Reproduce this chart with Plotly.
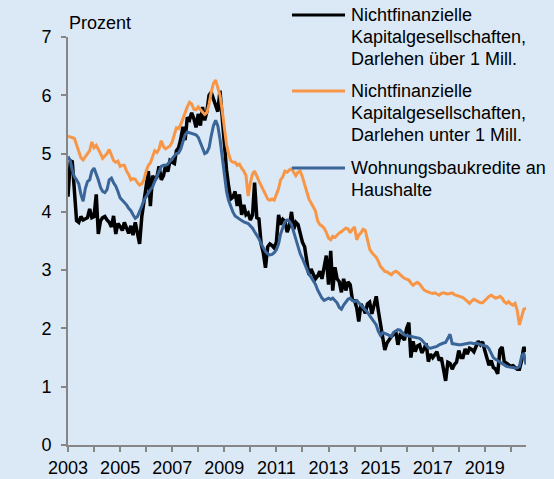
import pandas as pd
import plotly.graph_objects as go

# Monthly observations, Jan 2003 - Aug 2020 (percent)
start_month = "2003-01-01"

large_loans_nfc = [  # Nichtfinanzielle Kapitalgesellschaften, Darlehen über 1 Mill.
    4.26, 4.85, 4.88, 4.30, 3.85, 3.82, 3.92, 3.86, 3.88, 3.90, 4.05, 3.90,  # 2003
    3.92, 4.30, 3.62, 3.85, 3.90, 3.92, 3.86, 3.82, 3.74, 3.93, 3.62, 3.80,  # 2004
    3.75, 3.68, 3.82, 3.70, 3.63, 3.76, 3.60, 3.82, 3.65, 3.45, 3.92, 4.20,  # 2005
    4.45, 4.70, 4.10, 4.62, 4.55, 4.60, 4.78, 4.55, 4.62, 4.80, 4.69, 4.88,  # 2006
    4.85, 4.83, 5.05, 5.10, 5.25, 5.46, 5.23, 5.62, 5.58, 5.70, 5.60, 5.45,  # 2007
    5.68, 5.48, 5.80, 5.57, 5.72, 6.00, 6.05, 5.95, 5.85, 5.72, 6.08, 5.60,  # 2008
    5.05, 4.72, 4.45, 4.22, 4.25, 4.35, 4.10, 4.30, 3.95, 4.12, 3.95, 3.98,  # 2009
    3.86, 3.95, 4.50, 3.90, 3.88, 3.45, 3.30, 3.04, 3.40, 3.45, 3.42, 3.38,  # 2010
    3.48, 3.95, 3.78, 3.87, 3.84, 3.65, 3.75, 4.00, 3.70, 3.82, 3.78, 3.60,  # 2011
    3.48, 3.40, 3.15, 2.92, 3.02, 2.93, 2.85, 2.90, 2.98, 2.85, 3.08, 3.25,  # 2012
    2.75, 3.33, 2.65, 3.05, 2.85, 2.80, 2.62, 2.85, 2.65, 2.80, 2.75, 2.50,  # 2013
    2.48, 2.35, 2.12, 2.42, 2.35, 2.26, 2.42, 2.45, 2.25, 2.40, 2.55, 2.30,  # 2014
    2.05, 1.78, 1.63, 1.75, 1.82, 1.86, 1.90, 1.95, 1.72, 1.88, 1.85, 1.80,  # 2015
    2.00, 2.10, 1.50, 1.78, 1.60, 1.70, 1.72, 1.58, 1.65, 1.74, 1.43, 1.56,  # 2016
    1.50, 1.55, 1.60, 1.45, 1.50, 1.30, 1.10, 1.42, 1.40, 1.30, 1.38, 1.42,  # 2017
    1.62, 1.50, 1.50, 1.65, 1.56, 1.66, 1.64, 1.60, 1.68, 1.78, 1.72, 1.77,  # 2018
    1.62, 1.46, 1.37, 1.45, 1.33, 1.30, 1.22, 1.63, 1.68, 1.43, 1.40, 1.37,  # 2019
    1.35, 1.36, 1.33, 1.30, 1.30, 1.45, 1.68, 1.60,                          # 2020
]

small_loans_nfc = [  # Nichtfinanzielle Kapitalgesellschaften, Darlehen unter 1 Mill.
    5.30, 5.29, 5.28, 5.26, 5.15, 5.02, 4.93, 4.89, 4.95, 5.00, 5.05, 5.20,  # 2003
    5.10, 5.14, 5.08, 5.00, 4.92, 4.96, 5.00, 5.07, 4.98, 4.88, 4.85, 4.87,  # 2004
    4.78, 4.80, 4.80, 4.70, 4.64, 4.55, 4.57, 4.56, 4.50, 4.46, 4.48, 4.55,  # 2005
    4.70, 4.80, 4.84, 4.95, 5.05, 5.02, 5.08, 5.22, 5.12, 5.08, 5.10, 5.13,  # 2006
    5.20, 5.35, 5.44, 5.43, 5.50, 5.60, 5.72, 5.80, 5.88, 5.85, 5.76, 5.75,  # 2007
    5.80, 5.75, 5.70, 5.67, 5.70, 5.85, 6.05, 6.20, 6.26, 6.15, 6.00, 5.75,  # 2008
    5.45, 5.15, 5.00, 4.88, 4.85, 4.85, 4.80, 4.82, 4.75, 4.70, 4.62, 4.27,  # 2009
    4.50, 4.65, 4.70, 4.60, 4.53, 4.45, 4.36, 4.30, 4.22, 4.20, 4.22, 4.20,  # 2010
    4.30, 4.40, 4.55, 4.60, 4.70, 4.68, 4.72, 4.74, 4.68, 4.62, 4.68, 4.70,  # 2011
    4.60, 4.45, 4.35, 4.22, 4.15, 4.10, 4.02, 3.85, 3.78, 3.76, 3.72, 3.65,  # 2012
    3.55, 3.52, 3.58, 3.56, 3.60, 3.64, 3.66, 3.69, 3.72, 3.71, 3.64, 3.70,  # 2013
    3.74, 3.52, 3.60, 3.64, 3.70, 3.68, 3.50, 3.36, 3.30, 3.26, 3.22, 3.15,  # 2014
    3.06, 3.02, 2.98, 2.97, 2.94, 2.92, 2.96, 2.98, 2.96, 2.92, 2.89, 2.86,  # 2015
    2.85, 2.83, 2.78, 2.74, 2.77, 2.79, 2.76, 2.70, 2.66, 2.64, 2.62, 2.61,  # 2016
    2.60, 2.61, 2.59, 2.57, 2.60, 2.61, 2.60, 2.59, 2.60, 2.61, 2.58, 2.57,  # 2017
    2.56, 2.55, 2.53, 2.50, 2.46, 2.43, 2.47, 2.50, 2.48, 2.46, 2.44, 2.44,  # 2018
    2.48, 2.52, 2.55, 2.57, 2.54, 2.52, 2.53, 2.55, 2.52, 2.46, 2.43, 2.46,  # 2019
    2.42, 2.40, 2.43, 2.30, 2.06, 2.22, 2.33, 2.35,                          # 2020
]

housing_loans_hh = [  # Wohnungsbaukredite an Haushalte
    4.95, 4.88, 4.72, 4.60, 4.55, 4.48, 4.30, 4.18, 4.40, 4.52, 4.55, 4.70,  # 2003
    4.75, 4.65, 4.55, 4.42, 4.35, 4.33, 4.38, 4.55, 4.58, 4.50, 4.44, 4.35,  # 2004
    4.24, 4.20, 4.17, 4.12, 4.06, 4.02, 3.95, 3.89, 3.92, 4.00, 4.10, 4.20,  # 2005
    4.25, 4.32, 4.38, 4.43, 4.52, 4.60, 4.68, 4.78, 4.80, 4.80, 4.82, 4.86,  # 2006
    4.90, 4.96, 5.00, 5.01, 5.08, 5.22, 5.32, 5.37, 5.36, 5.35, 5.33, 5.32,  # 2007
    5.28, 5.18, 5.10, 5.00, 5.02, 5.10, 5.30, 5.48, 5.57, 5.48, 5.25, 4.95,  # 2008
    4.60, 4.35, 4.20, 4.08, 4.00, 3.93, 3.90, 3.87, 3.85, 3.83, 3.82, 3.80,  # 2009
    3.76, 3.72, 3.66, 3.60, 3.54, 3.45, 3.38, 3.32, 3.28, 3.26, 3.27, 3.30,  # 2010
    3.35, 3.45, 3.62, 3.74, 3.83, 3.86, 3.84, 3.78, 3.65, 3.52, 3.38, 3.28,  # 2011
    3.20, 3.10, 3.02, 2.93, 2.88, 2.82, 2.76, 2.66, 2.58, 2.52, 2.48, 2.50,  # 2012
    2.52, 2.50, 2.52, 2.48, 2.44, 2.36, 2.33, 2.40, 2.45, 2.50, 2.52, 2.48,  # 2013
    2.46, 2.48, 2.44, 2.40, 2.36, 2.32, 2.28, 2.22, 2.16, 2.12, 2.06, 1.95,  # 2014
    1.88, 1.93, 1.92, 1.90, 1.88, 1.86, 1.93, 1.96, 1.98, 1.97, 1.93, 1.89,  # 2015
    1.88, 1.87, 1.86, 1.85, 1.85, 1.84, 1.83, 1.80, 1.76, 1.72, 1.67, 1.66,  # 2016
    1.67, 1.68, 1.69, 1.72, 1.74, 1.75, 1.76, 1.82, 1.90, 1.74, 1.73, 1.72,  # 2017
    1.72, 1.72, 1.73, 1.73, 1.74, 1.75, 1.75, 1.74, 1.75, 1.74, 1.73, 1.72,  # 2018
    1.71, 1.69, 1.65, 1.56, 1.50, 1.47, 1.44, 1.42, 1.40, 1.37, 1.35, 1.34,  # 2019
    1.34, 1.33, 1.32, 1.32, 1.35, 1.52, 1.58, 1.38,                          # 2020
]

series_names = [
    ["Nichtfinanzielle", "Kapitalgesellschaften,", "Darlehen über 1 Mill."],
    ["Nichtfinanzielle", "Kapitalgesellschaften,", "Darlehen unter 1 Mill."],
    ["Wohnungsbaukredite an", "Haushalte"],
]
y_ticks = [0, 1, 2, 3, 4, 5, 6, 7]
y_title = "Prozent"

dates = pd.date_range(start_month, periods=len(large_loans_nfc), freq="MS")

BG = "#dbe8f5"
COLORS = ["#000000", "#f79646", "#3a6598"]
WIDTHS = [3.5, 3, 3]
FONT = "Liberation Sans, Arial, sans-serif"

W, H = 554, 479
L, R, T, B = 68, 28, 37, 34
PW, PH = W - L - R, H - T - B


def px(x):
    return (x - L) / PW


def py(y):
    return (H - B - y) / PH


fig = go.Figure()
# draw order as in the original: black, orange, blue on top
for vals, col, wd, nm in [
    (large_loans_nfc, COLORS[0], WIDTHS[0], series_names[0]),
    (small_loans_nfc, COLORS[1], WIDTHS[1], series_names[1]),
    (housing_loans_hh, COLORS[2], WIDTHS[2], series_names[2]),
]:
    fig.add_trace(go.Scatter(x=dates, y=vals, mode="lines",
                             line=dict(color=col, width=wd), name=" ".join(nm)))

# manual legend (long line samples, text lines left-aligned)
legend_rows = [(15, COLORS[0], series_names[0]),
               (91, COLORS[1], series_names[1]),
               (168, COLORS[2], series_names[2])]
shapes = []
annotations = []
for y0, col, lines in legend_rows:
    shapes.append(dict(type="line", xref="paper", yref="paper",
                       x0=px(292), x1=px(345), y0=py(y0), y1=py(y0),
                       line=dict(color=col, width=3)))
    for k, txt in enumerate(lines):
        annotations.append(dict(text=txt, xref="paper", yref="paper",
                                x=px(349), y=py(y0 + k * 22), xanchor="left",
                                yanchor="middle", showarrow=False,
                                font=dict(size=18, color="#000000", family=FONT)))

annotations.append(dict(text=y_title, xref="paper", yref="paper", x=px(67), y=py(23),
                        xanchor="left", yanchor="middle", showarrow=False,
                        font=dict(size=18, color="#000000", family=FONT)))

fig.update_layout(
    width=W, height=H,
    margin=dict(l=L, r=R, t=T, b=B, pad=0, autoexpand=False),
    paper_bgcolor=BG, plot_bgcolor=BG,
    showlegend=False,
    font=dict(family=FONT, size=18, color="#000000"),
    shapes=shapes, annotations=annotations,
)
fig.update_xaxes(
    type="date", range=[dates[0], dates[-1]],
    tickformat="%Y", dtick="M24", tick0="2003-01-01",
    ticks="outside", ticklen=5, tickwidth=2, tickcolor="#868686",
    showline=True, linecolor="#868686", linewidth=2,
    showgrid=False, zeroline=False, automargin=False,
    minor=dict(dtick="M12", tick0="2003-01-01", ticks="outside", ticklen=5,
               tickwidth=2, tickcolor="#868686", showgrid=False),
    tickfont=dict(size=18),
)
fig.update_yaxes(
    range=[0, 7], tickvals=y_ticks,
    ticks="outside", ticklen=5, tickwidth=2, tickcolor="#868686",
    showline=True, linecolor="#868686", linewidth=2,
    showgrid=False, zeroline=False, automargin=False,
    tickfont=dict(size=18), ticklabelstandoff=6,
)

fig.write_html(
    "out.html",
    config={"responsive": False, "displayModeBar": False},
    post_script="document.body.style.margin='0';document.body.style.overflow='hidden';",
)
